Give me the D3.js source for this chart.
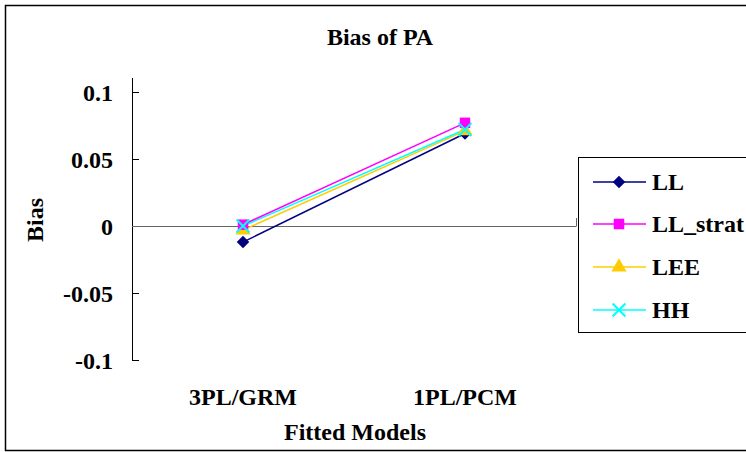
<!DOCTYPE html>
<html><head><meta charset="utf-8">
<script src="https://cdn.jsdelivr.net/npm/d3@7"></script>
<style>body{margin:0;background:#fff}svg{display:block}</style>
</head><body>
<script>
const categories = ["3PL/GRM", "1PL/PCM"];
const seriesNames = ["LL", "LL_strat", "LEE", "HH"];
const LL = [-0.012, 0.069];
const LL_strat = [0.001, 0.077];
const LEE = [-0.003, 0.071];
const HH = [0.0, 0.072];
const yTicks = [-0.1, -0.05, 0, 0.05, 0.1];
const yTickLabels = ["-0.1", "-0.05", "0", "0.05", "0.1"];

const colors = {LL:"#000080", LL_strat:"#FF00FF", LEE:"#FFCC00", HH:"#00FFFF"};
const shapes = {LL:d3.symbolDiamond2, LL_strat:d3.symbolSquare, LEE:d3.symbolTriangle, HH:d3.symbolX};
const data = {LL, LL_strat, LEE, HH};
const FONT = '"Liberation Serif", "Times New Roman", serif';

const W = 746, H = 452;
const svg = d3.select("body").append("svg").attr("width", W).attr("height", H);
svg.append("rect").attr("x",5.5).attr("y",5.5).attr("width",W).attr("height",H-7).attr("fill","#fff").attr("stroke","#000").attr("stroke-width",1.5);

const x = d3.scaleBand().domain(categories).range([132, 576]);
const y = d3.scaleLinear().domain([-0.1, 0.1]).range([360, 92]);

function txt(sel){ return sel.append("text").style("font-family", FONT).style("font-weight","bold").style("font-size","24px").attr("fill","#000"); }

// y axis
const g = svg.append("g");
g.append("line").attr("x1",132.5).attr("x2",132.5).attr("y1",78).attr("y2",360.5).attr("stroke","#000");
yTicks.forEach((t,i)=>{
  g.append("line").attr("x1",132).attr("x2",139).attr("y1",Math.round(y(t))+0.5).attr("y2",Math.round(y(t))+0.5).attr("stroke","#000");
  txt(g).attr("x",113).attr("y",y(t)+9).attr("text-anchor","end").text(yTickLabels[i]);
});
// x axis at 0
g.append("line").attr("x1",132).attr("x2",576.5).attr("y1",Math.round(y(0))+0.5).attr("y2",Math.round(y(0))+0.5).attr("stroke","#666");
[x.range()[1]].forEach(v=>{
  g.append("line").attr("x1",v+0.5).attr("x2",v+0.5).attr("y1",y(0)-8).attr("y2",y(0)).attr("stroke","#666");
});
categories.forEach(c=>{
  txt(g).attr("x",x(c)+x.bandwidth()/2).attr("y",405).attr("text-anchor","middle").text(c);
});

// title & axis labels
txt(svg).attr("x",380).attr("y",45).attr("text-anchor","middle").text("Bias of PA");
txt(svg).attr("x",355).attr("y",440).attr("text-anchor","middle").text("Fitted Models");
txt(svg).attr("transform","translate(43,220) rotate(-90)").attr("text-anchor","middle").text("Bias");

const cx = c => x(c) + x.bandwidth()/2;
const line = d3.line().x((d,i)=>cx(categories[i])).y(d=>y(d));
const order = ["LL","LEE","HH","LL_strat"];
order.forEach(s=>{
  svg.append("path").attr("d", line(data[s])).attr("fill","none").attr("stroke",colors[s]).attr("stroke-width",1.5);
});
function marker(sel, s, px, py){
  const sym = d3.symbol().type(shapes[s]).size(s==="HH"?110:(s==="LL_strat"?110:100));
  const p = sel.append("path").attr("d", sym()).attr("transform",`translate(${px},${py})`);
  if (s==="HH") p.attr("fill","none").attr("stroke",colors[s]).attr("stroke-width",2);
  else p.attr("fill",colors[s]);
}
["LL","LEE","LL_strat","HH"].forEach(s=>{
  data[s].forEach((v,i)=>marker(svg, s, cx(categories[i]), y(v)));
});

// legend
const lg = svg.append("g");
lg.append("rect").attr("x",578.5).attr("y",157.5).attr("width",200).attr("height",175).attr("fill","#fff").attr("stroke","#000");
const ly = [182, 224, 267, 310];
seriesNames.forEach((s,i)=>{
  lg.append("line").attr("x1",593).attr("x2",646).attr("y1",ly[i]).attr("y2",ly[i]).attr("stroke",colors[s]).attr("stroke-width",1.5);
  marker(lg, s, 619, ly[i]);
  txt(lg).attr("x",652).attr("y",ly[i]+8).text(s);
});
</script>
</body></html>
